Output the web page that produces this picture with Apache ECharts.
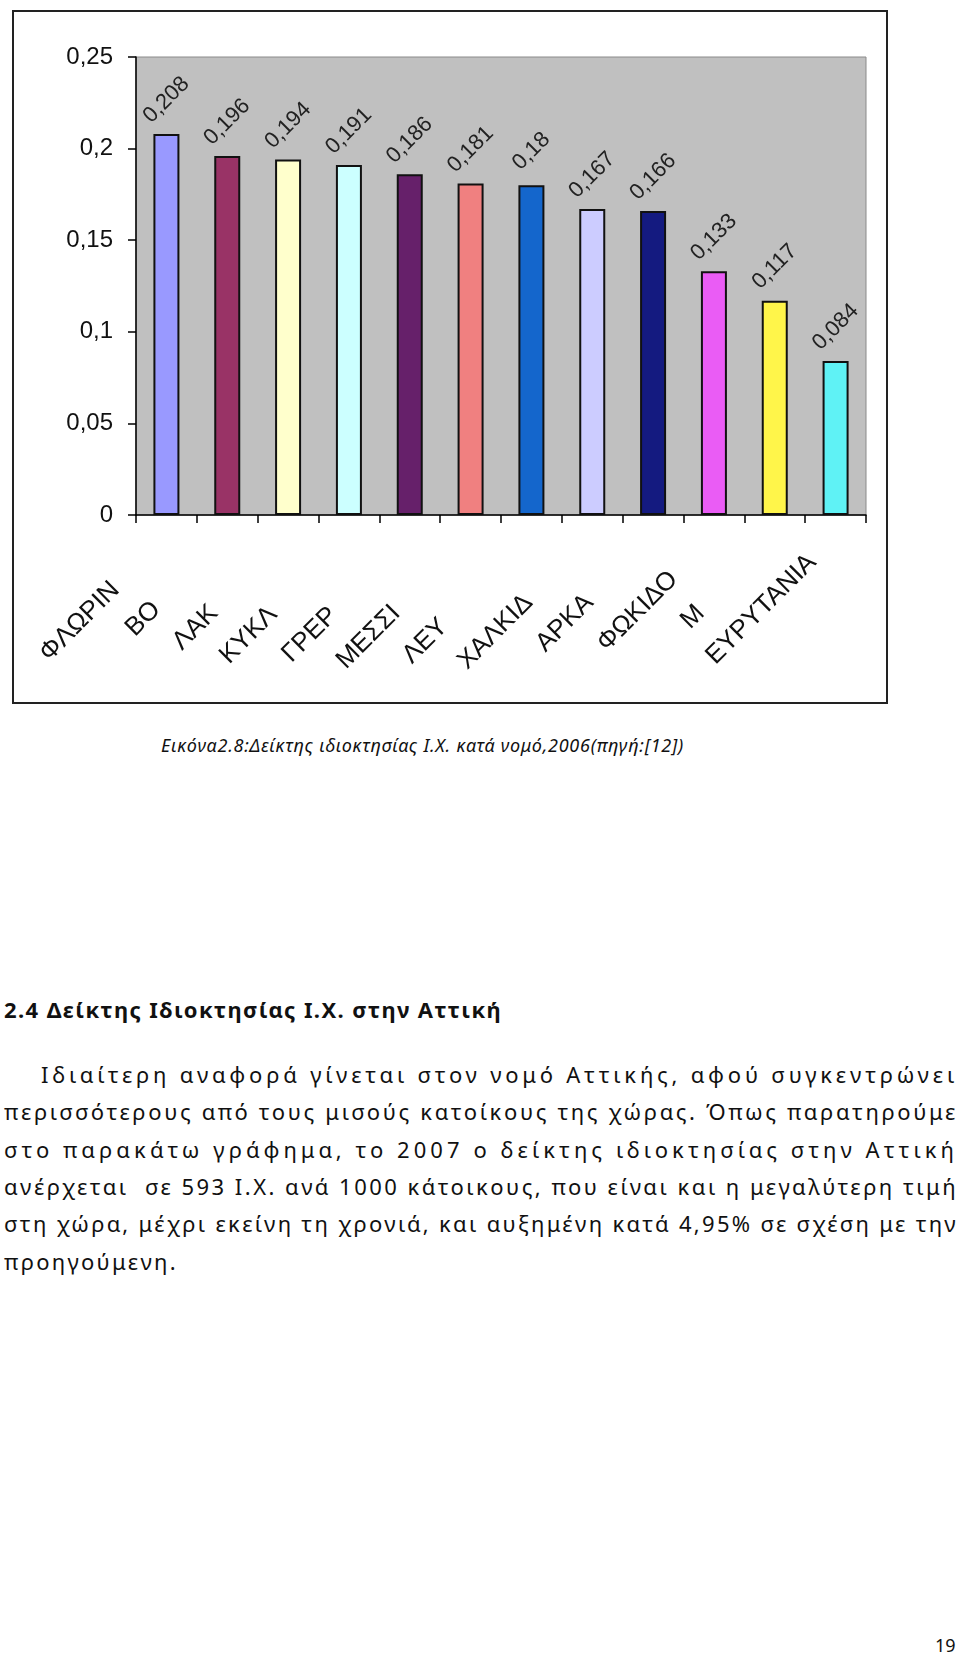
<!DOCTYPE html>
<html>
<head>
<meta charset="utf-8">
<script src="https://cdn.jsdelivr.net/npm/echarts@6/dist/echarts.min.js"></script>
<style>
  html, body { margin: 0; padding: 0; background: #fff; }
  body { width: 960px; height: 1659px; position: relative; overflow: hidden; font-family: "Noto Sans", "Open Sans", sans-serif; color: #111; }
  #frame { position: absolute; left: 12px; top: 10px; width: 876px; height: 694px; border: 2px solid #222; box-sizing: border-box; }
  #chart { position: absolute; left: 0; top: 0; width: 960px; height: 720px; }
  .ln { position: absolute; white-space: nowrap; line-height: 30px; height: 30px; }
  .cap { font-style: italic; font-size: 18px; }
  .head { font-weight: bold; font-size: 22px; }
  .body { font-size: 22px; }
  .pg { font-size: 18px; }
</style>
</head>
<body>
<div id="frame"></div>
<div id="chart"></div>

<div class="ln cap" data-w="523" style="left:161px; top:730px;">Εικόνα2.8:Δείκτης ιδιοκτησίας Ι.Χ. κατά νομό,2006(πηγή:[12])</div>

<div class="ln head" data-w="498" style="left:4px; top:994px;">2.4 Δείκτης Ιδιοκτησίας Ι.Χ. στην Αττική</div>

<div class="ln body" data-w="917" style="left:41px; top:1059px;">Ιδιαίτερη αναφορά γίνεται στον νομό Αττικής, αφού συγκεντρώνει</div>
<div class="ln body" data-w="954" style="left:4px; top:1096px;">περισσότερους από τους μισούς κατοίκους της χώρας. Όπως παρατηρούμε</div>
<div class="ln body" data-w="954" style="left:4px; top:1134px;">στο παρακάτω γράφημα, το 2007 ο δείκτης ιδιοκτησίας στην Αττική</div>
<div class="ln body" data-w="954" style="left:4px; top:1171px;">ανέρχεται&nbsp; σε 593 Ι.Χ. ανά 1000 κάτοικους, που είναι και η μεγαλύτερη τιμή</div>
<div class="ln body" data-w="954" style="left:4px; top:1208px;">στη χώρα, μέχρι εκείνη τη χρονιά, και αυξημένη κατά 4,95% σε σχέση με την</div>
<div class="ln body" data-w="174" style="left:4px; top:1246px;">προηγούμενη.</div>

<div class="ln pg" style="left:935px; top:1630px;">19</div>

<script>
// ---- data ----
const categories = ['ΦΛΩΡΙΝ', 'ΒΟ', 'ΛΑΚ', 'ΚΥΚΛ', 'ΓΡΕΡ', 'ΜΕΣΣΙ', 'ΛΕΥ', 'ΧΑΛΚΙΔ', 'ΑΡΚΑ', 'ΦΩΚΙΔΟ', 'Μ', 'ΕΥΡΥΤΑΝΙΑ'];
const values = [0.208, 0.196, 0.194, 0.191, 0.186, 0.181, 0.18, 0.167, 0.166, 0.133, 0.117, 0.084];
const yTickLabels = ['0', '0,05', '0,1', '0,15', '0,2', '0,25'];

// ---- styles ----
const barColors = ['#9999ff', '#993366', '#ffffcc', '#ccffff', '#66206a', '#f08080', '#1466cc', '#ccccff', '#141a80', '#ea5cf5', '#fff54a', '#5ff2f5'];
const labelShift = [72, 100, 105, 107, 108, 105, 124, 90, 90, 57, 105, 33];
const FONT = '"Liberation Sans", Arial, sans-serif';

const rich = {};
labelShift.forEach((p, i) => {
  rich['c' + i] = { padding: [0, p, 0, 0], fontSize: 26, fontFamily: FONT, color: '#111' };
});

const chart = echarts.init(document.getElementById('chart'), null, { renderer: 'canvas' });
chart.setOption({
  animation: false,
  grid: {
    left: 136, right: 94, top: 57, bottom: 205,
    show: true, backgroundColor: '#c0c0c0', borderColor: '#8a8a8a', borderWidth: 1
  },
  xAxis: {
    type: 'category',
    data: categories,
    axisLine: { show: true, lineStyle: { color: '#000', width: 1.5 } },
    axisTick: { show: true, length: 8, alignWithLabel: false, lineStyle: { color: '#000', width: 1.5 } },
    axisLabel: {
      interval: 0, rotate: 45, margin: 20, hideOverlap: false,
      fontSize: 26, fontFamily: FONT, color: '#111',
      formatter: (v, i) => '{c' + i + '|' + v + '}',
      rich: rich
    }
  },
  yAxis: {
    type: 'value',
    min: 0, max: 0.25, interval: 0.05,
    axisLine: { show: true, lineStyle: { color: '#000', width: 1.5 } },
    axisTick: { show: true, length: 8, lineStyle: { color: '#000', width: 1.5 } },
    splitLine: { show: false },
    axisLabel: {
      margin: 23, fontSize: 24, fontFamily: FONT, color: '#111',
      formatter: (v, i) => yTickLabels[i] !== undefined ? yTickLabels[i] : String(v).replace('.', ',')
    }
  },
  series: [{
    type: 'bar',
    data: values.map((v, i) => ({ value: v, itemStyle: { color: barColors[i] } })),
    barWidth: 26,
    itemStyle: { borderColor: '#111', borderWidth: 2 },
    label: {
      show: true, position: 'top', distance: 34, rotate: 45,
      align: 'center', verticalAlign: 'middle',
      fontSize: 22, fontFamily: FONT, color: '#222',
      formatter: p => String(p.value).replace('.', ',')
    }
  }]
});

// ---- justify text lines to the widths measured from the page ----
function fitLines() {
  document.querySelectorAll('.ln[data-w]').forEach(el => {
    el.style.letterSpacing = '0px';
    const w = el.getBoundingClientRect().width;
    const target = parseFloat(el.dataset.w);
    const n = el.textContent.length;
    el.style.letterSpacing = ((target - w) / n) + 'px';
  });
}
fitLines();
if (document.fonts && document.fonts.ready) document.fonts.ready.then(fitLines);
</script>
</body>
</html>
